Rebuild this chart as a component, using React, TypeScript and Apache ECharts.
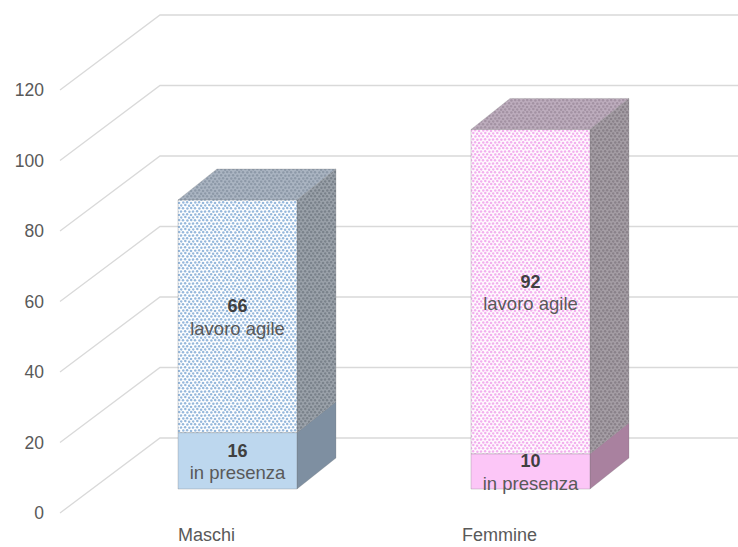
import React, { useEffect, useRef } from "react";
import * as echarts from "echarts";

// Lavoratori per genere e modalità di lavoro
const categories = ["Maschi", "Femmine"];
const inPresenza = [16, 10];
const lavoroAgile = [66, 92];
const segmentNames = ["in presenza", "lavoro agile"];
const yTicks = [0, 20, 40, 60, 80, 100, 120];

// Face colours, one entry per category
const presenzaFront = ["#bdd7ee", "#fcc6f7"];
const presenzaSide = ["#7e8fa1", "#a9819f"];
const agileFront = [
  { bg: "#ffffff", dot: "#96b8dc" },
  { bg: "#fffafe", dot: "#f2b0ee" },
];
const agileSide = [
  { bg: "#9ba2aa", dot: "#7a828b" },
  { bg: "#a59ea5", dot: "#898189" },
];
const agileTop = [
  { bg: "#abb5c2", dot: "#8d99a8" },
  { bg: "#bdadbd", dot: "#a392a3" },
];

const FONT = "Liberation Sans, Arial, sans-serif";

// Small confetti-like dot tile used as a repeating fill
const TILE = 12;
const DOT_POS: [number, number][] = [
  [1.2, 1.4], [5.3, 1.0], [9.1, 1.8],
  [3.0, 4.3], [7.4, 4.6], [11.2, 4.1],
  [1.0, 7.6], [5.1, 7.2], [9.4, 7.8],
  [3.3, 10.6], [7.1, 10.3], [11.0, 10.9],
];

function dotPattern(bg: string, dot: string) {
  const c = document.createElement("canvas");
  c.width = TILE;
  c.height = TILE;
  const ctx = c.getContext("2d")!;
  ctx.fillStyle = bg;
  ctx.fillRect(0, 0, TILE, TILE);
  ctx.fillStyle = dot;
  for (const [x, y] of DOT_POS) {
    for (const ox of [-TILE, 0, TILE]) {
      for (const oy of [-TILE, 0, TILE]) {
        ctx.beginPath();
        ctx.arc(x + ox, y + oy, 1.25, 0, Math.PI * 2);
        ctx.fill();
      }
    }
  }
  return { image: c, repeat: "repeat", imageWidth: TILE, imageHeight: TILE } as any;
}

// Projection of the 3D box: depth of the back wall, bar front and bar depth
const WALL = [100, -75];
const BAR_FRONT = [31, -24];
const BAR_DEPTH = [39, -31];
const BAR_RATIO = 0.406;

export default function App() {
  const ref = useRef<HTMLDivElement>(null);

  useEffect(() => {
    if (!ref.current) return;
    const chart = echarts.init(ref.current, null, { renderer: "svg" });

    const frontAgile = agileFront.map((p) => dotPattern(p.bg, p.dot));
    const sideAgile = agileSide.map((p) => dotPattern(p.bg, p.dot));
    const topAgile = agileTop.map((p) => dotPattern(p.bg, p.dot));

    const gridData = yTicks.map((v) => [0, v]);
    const barData = categories.map((_, i) => [i, inPresenza[i], lavoroAgile[i]]);

    const option: any = {
      animation: false,
      backgroundColor: "#ffffff",
      grid: { left: 60, right: 92, top: 90, bottom: 34 },
      xAxis: {
        type: "category",
        data: categories,
        axisLine: { show: false },
        axisTick: { show: false },
        axisLabel: { color: "#595959", fontSize: 18, fontFamily: FONT, margin: 13 },
        splitLine: { show: false },
      },
      yAxis: {
        type: "value",
        min: 0,
        max: 120,
        interval: 20,
        axisLine: { show: false },
        axisTick: { show: false },
        splitLine: { show: false },
        axisLabel: { color: "#595959", fontSize: 17.5, fontFamily: FONT, margin: 16 },
      },
      series: [
        {
          type: "custom",
          name: "grid",
          silent: true,
          encode: { x: 0, y: 1 },
          data: gridData,
          renderItem: (params: any, api: any) => {
            const cs = params.coordSys;
            const p = api.coord([0, api.value(1)]);
            const y = p[1];
            return {
              type: "polyline",
              shape: {
                points: [
                  [cs.x, y],
                  [cs.x + WALL[0], y + WALL[1]],
                  [cs.x + cs.width + WALL[0], y + WALL[1]],
                ],
              },
              style: { stroke: "#d9d9d9", lineWidth: 1.3, fill: "none" },
            };
          },
        },
        {
          type: "custom",
          name: "bars",
          encode: { x: 0, y: [1, 2] },
          data: barData,
          renderItem: (params: any, api: any) => {
            const i = api.value(0);
            const pres = api.value(1);
            const agile = api.value(2);
            const base = api.coord([i, 0]);
            const mid = api.coord([i, pres]);
            const top = api.coord([i, pres + agile]);
            const band = api.size([1, 0])[0];
            const w = band * BAR_RATIO;
            const x0 = base[0] - w / 2 + BAR_FRONT[0];
            const x1 = x0 + w;
            const yb = base[1] + BAR_FRONT[1];
            const ym = mid[1] + BAR_FRONT[1];
            const yt = top[1] + BAR_FRONT[1];
            const dx = BAR_DEPTH[0];
            const dy = BAR_DEPTH[1];
            const cx = (x0 + x1) / 2;
            const edge = "rgba(110,110,110,0.35)";

            const side = (ya: number, yb2: number, fill: any) => ({
              type: "polygon",
              shape: { points: [[x1, ya], [x1 + dx, ya + dy], [x1 + dx, yb2 + dy], [x1, yb2]] },
              style: { fill, stroke: edge, lineWidth: 0.6 },
            });
            const label = (value: number, name: string, y0: number, y1: number) => {
              const m = (y0 + y1) / 2;
              return [
                {
                  type: "text",
                  style: {
                    text: String(value),
                    x: cx,
                    y: m - 10,
                    align: "center",
                    verticalAlign: "middle",
                    fill: "#404040",
                    fontSize: 18,
                    fontWeight: "bold",
                    fontFamily: FONT,
                  },
                },
                {
                  type: "text",
                  style: {
                    text: name,
                    x: cx,
                    y: m + 12,
                    align: "center",
                    verticalAlign: "middle",
                    fill: "#595959",
                    fontSize: 18.5,
                    fontFamily: FONT,
                  },
                },
              ];
            };

            return {
              type: "group",
              children: [
                side(yb, ym, presenzaSide[i]),
                {
                  type: "rect",
                  shape: { x: x0, y: ym, width: w, height: yb - ym },
                  style: { fill: presenzaFront[i], stroke: edge, lineWidth: 0.8 },
                },
                side(ym, yt, sideAgile[i]),
                {
                  type: "rect",
                  shape: { x: x0, y: yt, width: w, height: ym - yt },
                  style: { fill: frontAgile[i], stroke: edge, lineWidth: 0.8 },
                },
                {
                  type: "polygon",
                  shape: { points: [[x0, yt], [x1, yt], [x1 + dx, yt + dy], [x0 + dx, yt + dy]] },
                  style: { fill: topAgile[i], stroke: edge, lineWidth: 0.6 },
                },
                ...label(pres, segmentNames[0], ym, yb),
                ...label(agile, segmentNames[1], yt, ym),
              ],
            };
          },
        },
      ],
    };

    chart.setOption(option);
    return () => chart.dispose();
  }, []);

  return (
    <div
      ref={ref}
      style={{ position: "fixed", left: 0, top: 0, width: 738, height: 547, background: "#fff" }}
    />
  );
}
